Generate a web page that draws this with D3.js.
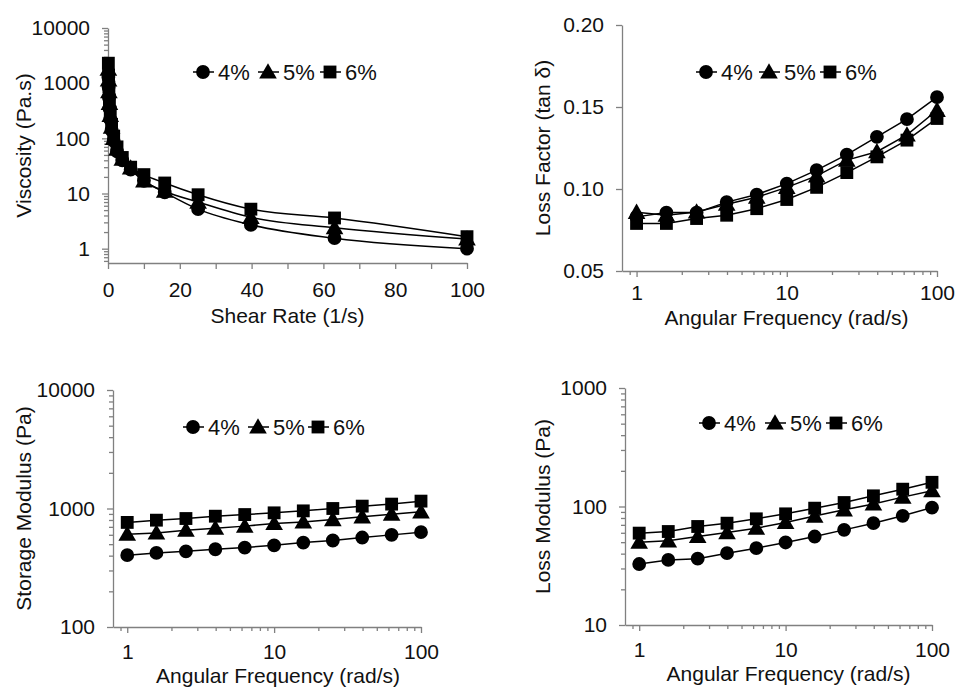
<!DOCTYPE html>
<html>
<head>
<meta charset="utf-8">
<script src="https://cdn.jsdelivr.net/npm/d3@7"></script>
<style>
  body { margin: 0; background: #fff; }
  svg { display: block; font-family: "Liberation Sans", Arial, sans-serif; }
</style>
</head>
<body>
<div id="chart"></div>
<script>
// ---- data ----
const seriesNames = ['4%', '5%', '6%'];
const shearRate = [0.1, 0.158, 0.251, 0.398, 0.631, 1, 1.58, 2.51, 3.98, 6.31, 10, 15.8, 25.1, 39.8, 63.1, 100];
const viscosity4 = [1300, 850, 550, 350, 220, 140, 90, 58, 40, 27, 17, 10.5, 5.2, 2.7, 1.55, 1.0];
const viscosity5 = [1800, 1150, 700, 430, 260, 160, 100, 64, 42, 29, 17, 11, 7, 3.7, 2.4, 1.5];
const viscosity6 = [2300, 1400, 850, 500, 300, 180, 110, 70, 45, 30, 22, 15.5, 9.5, 5.2, 3.6, 1.65];

const freq = [1, 1.58, 2.51, 3.98, 6.31, 10, 15.8, 25.1, 39.8, 63.1, 100];
const tanDelta4 = [0.083, 0.0856, 0.0856, 0.092, 0.0966, 0.1033, 0.1115, 0.121, 0.1318, 0.1426, 0.156];
const tanDelta5 = [0.0858, 0.084, 0.086, 0.0907, 0.095, 0.101, 0.108, 0.1176, 0.1227, 0.133, 0.148];
const tanDelta6 = [0.079, 0.079, 0.082, 0.084, 0.088, 0.0936, 0.101, 0.110, 0.1196, 0.1298, 0.143];

const storage4 = [404, 422, 435, 453, 468, 489, 516, 537, 569, 599, 631];
const storage5 = [607, 622, 656, 682, 710, 747, 771, 807, 851, 896, 937];
const storage6 = [763, 797, 823, 861, 889, 919, 955, 1000, 1047, 1089, 1154];

const lossMod4 = [32.7, 35.4, 36.3, 40.4, 44.5, 49.7, 55.8, 63.5, 72.3, 83.4, 98];
const lossMod5 = [50, 51.3, 55.8, 60.2, 65.6, 73.3, 83, 93.7, 105, 120, 136];
const lossMod6 = [59.6, 61.5, 67.8, 72.3, 78.7, 86.7, 96.8, 108, 123, 140, 160];

const W = 957, H = 687;
const svg = d3.select('#chart').append('svg')
    .attr('width', W)
    .attr('height', H);

function decades(lo, hi) {
    const out = [];
    for (let p = lo; p <= hi; p++) out.push(Math.pow(10, p));
    return out;
}
function minors(lo, hi) {
    const out = [];
    for (let p = lo; p < hi; p++) {
        for (let m = 2; m <= 9; m++) out.push(m * Math.pow(10, p));
    }
    return out;
}

const markerSym = [d3.symbolCircle, d3.symbolTriangle, d3.symbolSquare];
const markerSize = [150, 135, 165];

function drawPanel(p) {
    const g = svg.append('g');
    const x = p.xScale.range([p.left, p.right]);
    const y = p.yScale.range([p.bottom, p.top]);

    // y axis minor
    if (p.yMinor) {
        g.append('g')
            .attr('transform', `translate(${p.left},0)`)
            .call(d3.axisLeft(y).tickValues(p.yMinor).tickSize(4).tickSizeOuter(0).tickFormat(''))
            .call(s => s.select('.domain').remove());
    }
    g.append('g')
        .attr('transform', `translate(${p.left},0)`)
        .call(d3.axisLeft(y).tickValues(p.yTicks).tickSize(6).tickSizeOuter(0).tickPadding(12).tickFormat(p.yFormat));
    if (p.xMinor) {
        g.append('g')
            .attr('transform', `translate(0,${p.bottom})`)
            .call(d3.axisBottom(x).tickValues(p.xMinor).tickSize(4).tickSizeOuter(0).tickFormat(''))
            .call(s => s.select('.domain').remove());
    }
    g.append('g')
        .attr('transform', `translate(0,${p.bottom})`)
        .call(d3.axisBottom(x).tickValues(p.xTicks).tickSize(6).tickSizeOuter(0).tickPadding(p.xPad || 13).tickFormat(p.xFormat))
        .call(s => s.selectAll('.tick').filter(d => p.xLabelled && !p.xLabelled.includes(d)).select('text').remove());

    g.selectAll('.domain, .tick line').attr('stroke', '#808080').attr('stroke-width', 1.3);
    g.selectAll('.tick text').attr('fill', '#111').style('font-size', '21px');

    // axis titles
    g.append('text')
        .attr('x', (p.left + p.right) / 2 + (p.xTitleDx || 0))
        .attr('y', p.bottom + p.xTitleDy)
        .attr('text-anchor', 'middle')
        .attr('fill', '#111')
        .style('font-size', '21px')
        .text(p.xTitle);
    g.append('text')
        .attr('transform', `translate(${p.yTitleX},${(p.top + p.bottom) / 2}) rotate(-90)`)
        .attr('text-anchor', 'middle')
        .attr('dominant-baseline', 'central')
        .attr('fill', '#111')
        .style('font-size', '21px')
        .text(p.yTitle);

    // series
    const line = d3.line()
        .x(d => x(d[0]))
        .y(d => y(d[1]))
        .curve(p.curve || d3.curveLinear);
    p.series.forEach((vals, i) => {
        const pts = p.xs.map((xv, j) => [xv, vals[j]]);
        g.append('path')
            .datum(pts)
            .attr('d', line)
            .attr('fill', 'none')
            .attr('stroke', '#000')
            .attr('stroke-width', 1.5);
        g.selectAll(null)
            .data(pts)
            .join('path')
            .attr('transform', d => `translate(${x(d[0])},${y(d[1]) + (i === 1 ? 1.5 : 0)})`)
            .attr('d', d3.symbol().type(markerSym[i]).size(markerSize[i]))
            .attr('fill', '#000');
    });

    // legend
    const lg = g.append('g');
    seriesNames.forEach((name, i) => {
        const cx = p.legendX[i];
        lg.append('line')
            .attr('x1', cx - 10).attr('x2', cx + 11)
            .attr('y1', p.legendY).attr('y2', p.legendY)
            .attr('stroke', '#000').attr('stroke-width', 1.5);
        lg.append('path')
            .attr('transform', `translate(${cx},${p.legendY + (i === 1 ? 1.5 : 0)})`)
            .attr('d', d3.symbol().type(markerSym[i]).size(markerSize[i]))
            .attr('fill', '#000');
        lg.append('text')
            .attr('x', cx + 15)
            .attr('y', p.legendY + 7.5)
            .attr('fill', '#111')
            .style('font-size', '22px')
            .text(name);
    });
}

const logFmt = d => String(d);

// Viscosity
drawPanel({
    left: 108, right: 467, top: 28, bottom: 263,
    xScale: d3.scaleLinear().domain([0, 100]),
    yScale: d3.scaleLog().domain([0.55, 10000]),
    xTicks: d3.range(0, 101, 10), xLabelled: d3.range(0, 101, 20), xFormat: d => d,
    yTicks: decades(0, 4), yMinor: [0.6, 0.7, 0.8, 0.9].concat(minors(0, 4)), yFormat: logFmt,
    xTitle: 'Shear Rate (1/s)', xTitleDy: 60, xTitleDx: 0,
    yTitle: 'Viscosity (Pa.s)', yTitleX: 23,
    xs: shearRate, series: [viscosity4, viscosity5, viscosity6],
    curve: d3.curveMonotoneX,
    legendX: [203, 268, 330], legendY: 72
});

// Loss factor
drawPanel({
    left: 622, right: 937, top: 25, bottom: 271,
    xScale: d3.scaleLog().domain([0.8, 100]),
    yScale: d3.scaleLinear().domain([0.05, 0.20]),
    xTicks: decades(0, 2), xMinor: minors(0, 2).concat([0.9]), xFormat: logFmt, xPad: 8,
    yTicks: [0.05, 0.10, 0.15, 0.20], yFormat: d3.format('.2f'),
    xTitle: 'Angular Frequency (rad/s)', xTitleDy: 54, xTitleDx: 7,
    yTitle: 'Loss Factor (tan δ)', yTitleX: 542,
    xs: freq, series: [tanDelta4, tanDelta5, tanDelta6],
    legendX: [706, 769, 830], legendY: 72
});

// Storage modulus
drawPanel({
    left: 113, right: 421, top: 390, bottom: 627,
    xScale: d3.scaleLog().domain([0.8, 100]),
    yScale: d3.scaleLog().domain([100, 10000]),
    xTicks: decades(0, 2), xMinor: minors(0, 2).concat([0.9]), xFormat: logFmt, xPad: 11,
    yTicks: decades(2, 4), yMinor: minors(2, 4), yFormat: logFmt,
    xTitle: 'Angular Frequency (rad/s)', xTitleDy: 56, xTitleDx: 11,
    yTitle: 'Storage Modulus (Pa)', yTitleX: 23,
    xs: freq, series: [storage4, storage5, storage6],
    legendX: [193, 258, 318], legendY: 427
});

// Loss modulus
drawPanel({
    left: 625, right: 932, top: 388, bottom: 625,
    xScale: d3.scaleLog().domain([0.8, 100]),
    yScale: d3.scaleLog().domain([10, 1000]),
    xTicks: decades(0, 2), xMinor: minors(0, 2).concat([0.9]), xFormat: logFmt, xPad: 11,
    yTicks: decades(1, 3), yMinor: minors(1, 3), yFormat: logFmt,
    xTitle: 'Angular Frequency (rad/s)', xTitleDy: 56, xTitleDx: 10,
    yTitle: 'Loss Modulus (Pa)', yTitleX: 542,
    xs: freq, series: [lossMod4, lossMod5, lossMod6],
    legendX: [709, 775, 836], legendY: 423
});
</script>
</body>
</html>
